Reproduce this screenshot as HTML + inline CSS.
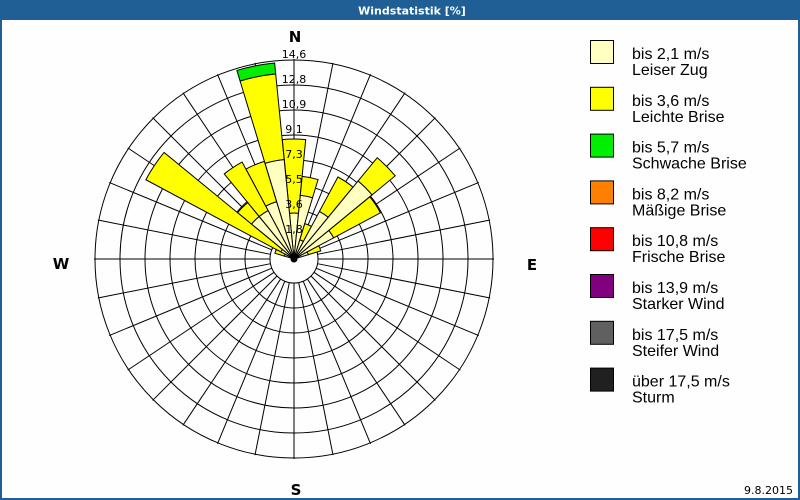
<!DOCTYPE html>
<html><head><meta charset="utf-8"><style>
html,body{margin:0;padding:0;background:#fff;}
#wrap{position:relative;width:800px;height:500px;overflow:hidden;background:#fdfefd;font-family:"DejaVu Sans","Liberation Sans",sans-serif;}
</style></head><body><div id="wrap">
<svg id="s" width="800" height="500" xmlns="http://www.w3.org/2000/svg" style="position:absolute;left:0;top:0">
<rect x="0" y="0" width="800" height="20" fill="#1f5f96"/>
<rect x="0" y="0" width="2" height="500" fill="#1f5f96"/>
<rect x="798" y="0" width="2" height="500" fill="#1f5f96"/>
<rect x="0" y="498" width="800" height="2" fill="#1f5f96"/>
<text x="412" y="14.5" text-anchor="middle" fill="#fff" font-size="11" font-weight="bold" font-family="DejaVu Sans, sans-serif">Windstatistik [%]</text>
<g id="grid" stroke="#000" stroke-width="1" fill="none"></g>
<g id="bars" stroke="#000" stroke-width="1"></g>
<g id="lbl" font-size="11" font-family="DejaVu Sans, sans-serif" fill="#000" text-anchor="middle"></g>
<g font-size="15" font-weight="bold" font-family="DejaVu Sans, sans-serif" text-anchor="middle" fill="#000">
<text x="295" y="42">N</text>
<text x="296" y="495">S</text>
<text x="532" y="270">E</text>
<text x="61" y="269">W</text>
</g>
<text x="793" y="494" text-anchor="end" font-size="11" font-family="DejaVu Sans, sans-serif">9.8.2015</text>
<g id="leg" font-size="16" font-family="Liberation Sans, sans-serif" fill="#000"></g>
</svg>
<script>
var NS="http://www.w3.org/2000/svg",cx=294,cy=259;
function el(p,t,a,txt){var e=document.createElementNS(NS,t);for(var k in a)e.setAttribute(k,a[k]);if(txt!=null)e.textContent=txt;document.getElementById(p).appendChild(e);return e;}
function pt(r,a){var t=a*Math.PI/180;return [cx+r*Math.sin(t),cy-r*Math.cos(t)];}
for(var i=0;i<32;i++){var a=i*11.25,p1=pt(24,a),p2=pt(200,a);el("grid","line",{x1:p1[0],y1:p1[1],x2:p2[0],y2:p2[1]});}
el("grid","circle",{cx:cx,cy:cy,r:24});
for(var r=49;r<=200;r+=25)el("grid","circle",{cx:cx,cy:cy,r:r});
el("grid","line",{x1:cx-200,y1:cy,x2:cx-24,y2:cy});
el("grid","line",{x1:cx+24,y1:cy,x2:cx+200,y2:cy});
el("grid","line",{x1:cx,y1:cy-200,x2:cx,y2:cy-24});
el("grid","line",{x1:cx,y1:cy+24,x2:cx,y2:cy+200});
function wedge(a,r0,r1,col){var h=5.6,A=pt(r0,a-h),B=pt(r1,a-h),C=pt(r1,a+h),D=pt(r0,a+h);
var d="M"+A+"L"+B+"A"+r1+","+r1+" 0 0 1 "+C+"L"+D+(r0>0?"A"+r0+","+r0+" 0 0 0 "+A:"")+"Z";
el("bars","path",{d:d,fill:col});}
var cols=["#ffffc0","#ffff00","#00ee00"];
var data=[[0,[46,120]],[11.25,[64,83]],[22.5,[20,37]],[33.75,[54,93]],[45,[101,131]],[56.25,[45,98]],[67.5,[15,28]],
[348.75,[100,186,197]],[337.5,[60,102]],[326.25,[55,110]],[315,[55,73]],[303.75,[15,168]],[292.5,[10,20]]];
data.forEach(function(b){var r0=0;b[1].forEach(function(r,j){wedge(b[0],r0,r,cols[j]);r0=r;});});
el("bars","circle",{cx:cx,cy:cy,r:3,fill:"#000"});
var L=["1,8","3,6","5,5","7,3","9,1","10,9","12,8","14,6"];
L.forEach(function(t,i){var r=24+25*i;el("lbl","text",{x:cx,y:cy-r-2},t);});
var lg=[["#ffffc0","bis 2,1 m/s","Leiser Zug"],["#ffff00","bis 3,6 m/s","Leichte Brise"],["#00ee00","bis 5,7 m/s","Schwache Brise"],["#ff8000","bis 8,2 m/s","Mäßige Brise"],["#ff0000","bis 10,8 m/s","Frische Brise"],["#800080","bis 13,9 m/s","Starker Wind"],["#606060","bis 17,5 m/s","Steifer Wind"],["#202020","über 17,5 m/s","Sturm"]];
lg.forEach(function(g,i){var y=40+i*46.8;el("leg","rect",{x:590.5,y:y+0.5,width:23,height:23,fill:g[0],stroke:"#000"});
el("leg","text",{x:632,y:y+19},g[1]);el("leg","text",{x:632,y:y+35},g[2]);});
</script>
</div></body></html>
